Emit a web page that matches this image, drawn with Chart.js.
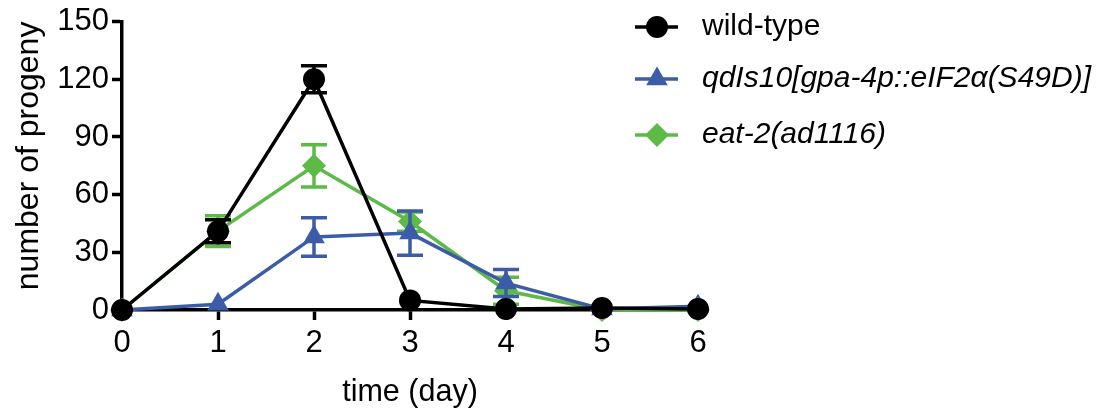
<!DOCTYPE html>
<html><head><meta charset="utf-8">
<script src="https://cdn.jsdelivr.net/npm/chart.js@4/dist/chart.umd.min.js"></script>
<style>html,body{margin:0;padding:0;background:#fff}#wrap{width:1109px;height:411px;position:relative}</style>
</head><body><div id="wrap"><canvas id="c" width="1109" height="411"></canvas></div>
<script>
const days = [0, 1, 2, 3, 4, 5, 6];
const xTicks = [0, 1, 2, 3, 4, 5, 6];
const yTicks = [0, 30, 60, 90, 120, 150];
const seriesNames = ['wild-type', 'qdIs10[gpa-4p::eIF2α(S49D)]', 'eat-2(ad1116)'];
const wildType = [0, 41, 120, 5, 0.5, 1, 0.5];
const wildTypeErr = [0, 6, 7, 0, 0, 0, 0];
const qdIs10 = [0, 3, 38, 40, 14, 0.5, 2];
const qdIs10Err = [0, 0, 10, 11.5, 7, 0, 0];
const eat2 = [0, 41, 75, 46, 10, 0, 0];
const eat2Err = [0, 8, 11, 5, 7, 0, 0];

const FONT = "'Liberation Sans', Arial, Helvetica, sans-serif";
const colors = ['#000000', '#3d5ca8', '#5dba47'];
const styles = ['circle', 'triangle', 'rectRot'];
const radii = [11, 12.5, 12];
const italics = [false, true, true];
const LW = 3.5;

function pts(vals) { return days.map((d, i) => ({ x: d, y: vals[i] })); }

const errorBars = {
  id: 'errorBars',
  beforeDatasetDraw(chart, args) {
    const ds = chart.data.datasets[args.index];
    if (!ds.errors) return;
    const xs = chart.scales.x, ys = chart.scales.y, ctx = chart.ctx;
    ctx.save();
    ctx.strokeStyle = ds.borderColor;
    ctx.lineWidth = LW;
    ds.data.forEach((p, i) => {
      const e = ds.errors[i];
      if (!e) return;
      const px = xs.getPixelForValue(p.x);
      const top = ys.getPixelForValue(p.y + e), bot = ys.getPixelForValue(p.y - e);
      ctx.beginPath();
      ctx.moveTo(px, top); ctx.lineTo(px, bot);
      ctx.moveTo(px - 13, top); ctx.lineTo(px + 13, top);
      ctx.moveTo(px - 13, bot); ctx.lineTo(px + 13, bot);
      ctx.stroke();
    });
    ctx.restore();
  }
};

function drawMarker(ctx, style, x, y, r) {
  ctx.beginPath();
  if (style === 'circle') {
    ctx.arc(x, y, r, 0, Math.PI * 2);
  } else if (style === 'triangle') {
    let rad = 0;
    ctx.moveTo(x + Math.sin(rad) * r, y - Math.cos(rad) * r);
    rad += 2 * Math.PI / 3;
    ctx.lineTo(x + Math.sin(rad) * r, y - Math.cos(rad) * r);
    rad += 2 * Math.PI / 3;
    ctx.lineTo(x + Math.sin(rad) * r, y - Math.cos(rad) * r);
    ctx.closePath();
  } else {
    ctx.moveTo(x, y - r); ctx.lineTo(x + r, y); ctx.lineTo(x, y + r); ctx.lineTo(x - r, y);
    ctx.closePath();
  }
  ctx.fill();
}

const customLegend = {
  id: 'customLegend',
  afterDraw(chart) {
    const ctx = chart.ctx;
    const rows = [27, 79, 135];
    ctx.save();
    chart.data.datasets.forEach((ds, i) => {
      const y = rows[i];
      ctx.strokeStyle = ds.borderColor;
      ctx.fillStyle = ds.borderColor;
      ctx.lineWidth = LW;
      ctx.beginPath(); ctx.moveTo(635, y); ctx.lineTo(678, y); ctx.stroke();
      drawMarker(ctx, styles[i], 657, y, radii[i]);
      ctx.fillStyle = '#000';
      ctx.font = (italics[i] ? 'italic ' : '') + '30px ' + FONT;
      ctx.textBaseline = 'middle';
      ctx.textAlign = 'left';
      ctx.fillText(ds.label, 702, y);
    });
    ctx.restore();
  }
};

const datasets = [wildType, qdIs10, eat2].map((vals, i) => ({
  label: seriesNames[i],
  data: pts(vals),
  errors: [wildTypeErr, qdIs10Err, eat2Err][i],
  borderColor: colors[i],
  backgroundColor: colors[i],
  borderWidth: LW,
  pointStyle: styles[i],
  pointRadius: radii[i],
  pointBorderWidth: 0,
  pointBackgroundColor: colors[i],
  clip: false,
  tension: 0
}));

new Chart(document.getElementById('c'), {
  type: 'line',
  data: { datasets },
  plugins: [errorBars, customLegend],
  options: {
    responsive: false,
    animation: false,
    devicePixelRatio: 1,
    layout: { padding: { top: 21, right: 411, bottom: 0, left: 0 } },
    plugins: { legend: { display: false }, tooltip: { enabled: false } },
    scales: {
      x: {
        type: 'linear', min: 0, max: 6,
        afterBuildTicks: s => { s.ticks = xTicks.map(v => ({ value: v })); },
        afterFit: s => { s.height = 101; },
        grid: { drawOnChartArea: false, drawTicks: true, tickLength: 10, tickWidth: 3.5, tickColor: '#000' },
        border: { display: true, color: '#000', width: 3.5 },
        ticks: { color: '#000', font: { family: FONT, size: 31 }, padding: 5, maxRotation: 0 },
        title: { display: true, text: 'time (day)', color: '#000', font: { family: FONT, size: 30.5 }, padding: { top: 0, bottom: 0 } }
      },
      y: {
        type: 'linear', min: 0, max: 150,
        afterBuildTicks: s => { s.ticks = yTicks.map(v => ({ value: v })); },
        afterFit: s => { s.width = 122; },
        grid: { drawOnChartArea: false, drawTicks: true, tickLength: 10, tickWidth: 3.5, tickColor: '#000' },
        border: { display: true, color: '#000', width: 3.5 },
        ticks: { color: '#000', font: { family: FONT, size: 31 }, padding: 3 },
        title: { display: true, text: 'number of progeny', align: 'end', color: '#000', font: { family: FONT, size: 32 }, padding: { top: 10, bottom: 0 } }
      }
    }
  }
});
</script></body></html>
